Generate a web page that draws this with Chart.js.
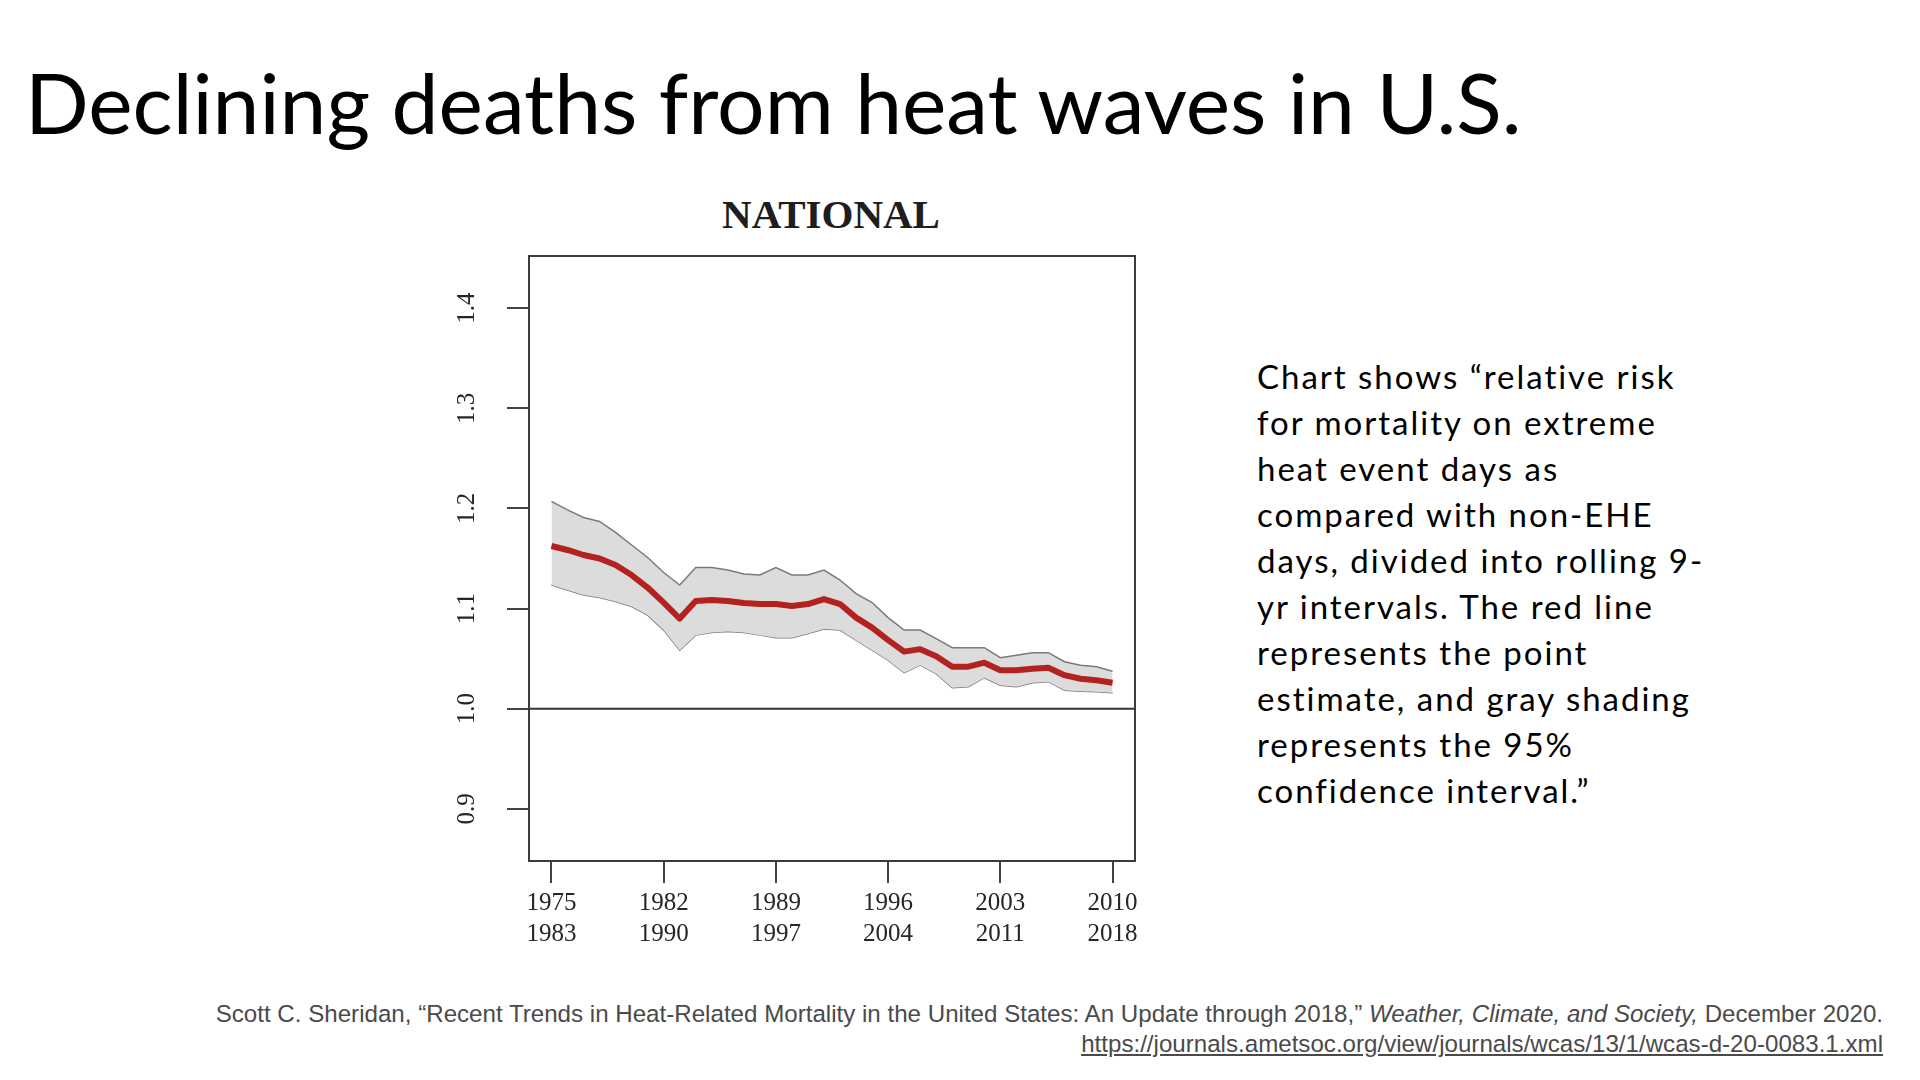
<!DOCTYPE html>
<html>
<head>
<meta charset="utf-8">
<script src="https://cdn.jsdelivr.net/npm/chart.js@4/dist/chart.umd.min.js"></script>
<style>
  html, body { margin:0; padding:0; background:#fff; }
  body { width:1920px; height:1080px; position:relative; overflow:hidden; }
  #title { position:absolute; left:25px; top:63px; font-family:Lato, "Noto Sans", sans-serif; font-size:78px; line-height:78px; color:#000; white-space:nowrap; }
  #natl { position:absolute; left:631px; width:400px; text-align:center; top:194px; font-family:"Liberation Serif", serif; font-weight:bold; font-size:41px; line-height:41px; color:#1e1e1e; }
  #chartbox { position:absolute; left:380px; top:230px; width:780px; height:740px; }
  #note { position:absolute; left:1257px; top:353px; font-family:Lato, "Noto Sans", sans-serif; font-size:33px; line-height:46px; color:#000; white-space:nowrap; }
  #foot { position:absolute; right:37px; top:999px; font-family:"Liberation Sans", Arial, sans-serif; font-size:22px; line-height:30px; color:#4a4a4a; text-align:right; white-space:nowrap; }
  #foot a { color:#4a4a4a; text-decoration:underline; }
</style>
</head>
<body>
<div id="title">Declining deaths from heat waves in U.S.</div>
<div id="natl">NATIONAL</div>
<div id="chartbox"><canvas id="c"></canvas></div>
<div id="note"><span id="note1">Chart shows “relative risk</span><br>for mortality on extreme<br>heat event days as<br>compared with non-EHE<br>days, divided into rolling 9-<br>yr intervals. The red line<br>represents the point<br>estimate, and gray shading<br>represents the 95%<br>confidence interval.”</div>
<div id="foot"><span id="foot1">Scott C. Sheridan, “Recent Trends in Heat-Related Mortality in the United States: An Update through 2018,” <i>Weather, Climate, and Society,</i> December 2020.</span><br><a>https://journals.ametsoc.org/view/journals/wcas/13/1/wcas-d-20-0083.1.xml</a></div>
<script>
// ---- data ----
const startYears = [1975,1976,1977,1978,1979,1980,1981,1982,1983,1984,1985,1986,1987,1988,1989,1990,1991,1992,1993,1994,1995,1996,1997,1998,1999,2000,2001,2002,2003,2004,2005,2006,2007,2008,2009,2010];
const estimate = [1.1625,1.1585,1.1535,1.150,1.1435,1.1335,1.121,1.106,1.090,1.1075,1.1085,1.1075,1.1055,1.1045,1.1045,1.1025,1.1045,1.1095,1.1045,1.091,1.081,1.0685,1.057,1.0595,1.0525,1.042,1.042,1.046,1.0385,1.0385,1.040,1.041,1.0335,1.030,1.0285,1.026];
const upperCI = [1.207,1.1985,1.191,1.187,1.176,1.1635,1.151,1.136,1.1235,1.141,1.141,1.1385,1.1345,1.1335,1.141,1.1335,1.1335,1.1385,1.1285,1.115,1.106,1.091,1.0785,1.0785,1.070,1.061,1.061,1.061,1.051,1.0535,1.056,1.056,1.047,1.0435,1.042,1.0375];
const lowerCI = [1.1235,1.1185,1.1135,1.111,1.107,1.102,1.0935,1.0785,1.0585,1.0735,1.076,1.077,1.076,1.0735,1.071,1.071,1.075,1.0795,1.0785,1.0685,1.0585,1.0485,1.036,1.0435,1.035,1.021,1.022,1.031,1.0235,1.022,1.026,1.027,1.0185,1.0175,1.017,1.016];
const xTickStarts = [1975,1982,1989,1996,2003,2010];
const xTickEnds = [1983,1990,1997,2004,2011,2018];
const yTicks = [0.9,1.0,1.1,1.2,1.3,1.4];
const referenceValue = 1.0;

// ---- text fitting ----
function fitWidth(el, target, measureEl) {
  const m = measureEl || el;
  const w = m.getBoundingClientRect().width;
  const fs = parseFloat(getComputedStyle(el).fontSize);
  el.style.fontSize = (fs * target / w) + 'px';
}
function fitSpacing(el, target, measureEl) {
  const m = measureEl || el;
  const w = m.getBoundingClientRect().width;
  const n = m.textContent.length;
  el.style.letterSpacing = ((target - w) / n) + 'px';
}
fitWidth(document.getElementById('title'), 1497);
fitSpacing(document.getElementById('note'), 419, document.getElementById('note1'));
fitWidth(document.getElementById('foot'), 1669, document.getElementById('foot1'));

const pts = arr => startYears.map((x,i) => ({x, y: arr[i]}));
const serif = '"Liberation Serif", "DejaVu Serif", serif';

const extras = {
  id: 'extras',
  afterDatasetsDraw(chart) {
    const {ctx, chartArea:a, scales:{y}} = chart;
    ctx.save();
    const yr = y.getPixelForValue(referenceValue);
    ctx.strokeStyle = '#333'; ctx.lineWidth = 2;
    ctx.beginPath(); ctx.moveTo(a.left, yr); ctx.lineTo(a.right, yr); ctx.stroke();
    ctx.strokeStyle = '#3c3c3c'; ctx.lineWidth = 2;
    ctx.strokeRect(a.left, a.top, a.right - a.left, a.bottom - a.top);
    ctx.restore();
  },
  afterDraw(chart) {
    const {ctx, chartArea:a, scales:{y}} = chart;
    ctx.save();
    ctx.fillStyle = '#262626';
    ctx.font = '25px ' + serif;
    ctx.textAlign = 'center'; ctx.textBaseline = 'middle';
    y.ticks.forEach(t => {
      const py = y.getPixelForValue(t.value);
      ctx.save();
      ctx.translate(a.left - 62, py);
      ctx.rotate(-Math.PI/2);
      ctx.fillText(t.value.toFixed(1), 0, 0);
      ctx.restore();
    });
    ctx.restore();
  }
};

new Chart(document.getElementById('c'), {
  type: 'line',
  data: {
    datasets: [
      { data: pts(lowerCI), borderColor:'#7a7a7a', borderWidth:1.5, pointRadius:0, fill:false, tension:0, order:2 },
      { data: pts(upperCI), borderColor:'#7a7a7a', borderWidth:1.5, pointRadius:0, fill:'-1', backgroundColor:'#dcdcdc', tension:0, order:1 },
      { data: pts(estimate), borderColor:'#b3221f', borderWidth:6, pointRadius:0, fill:false, tension:0, borderJoinStyle:'round', order:0 }
    ]
  },
  options: {
    responsive:true, maintainAspectRatio:false, animation:false,
    layout: { padding: { top:26, right:25, left:0, bottom:0 } },
    plugins: { legend:{display:false}, tooltip:{enabled:false}, title:{display:false} },
    scales: {
      x: {
        type:'linear', min:1973.6, max:2011.4,
        afterBuildTicks: s => { s.ticks = xTickStarts.map(v => ({value:v})); },
        afterFit: s => { s.height = 109; },
        grid: { drawOnChartArea:false, drawTicks:true, tickLength:22, color:'#444', lineWidth:2 },
        border: { display:true, color:'#3c3c3c', width:2 },
        ticks: {
          padding:5, color:'#262626', maxRotation:0, minRotation:0, autoSkip:false,
          font: { family: serif, size:25, lineHeight:1.24 },
          callback: v => { const i = xTickStarts.indexOf(v); return [String(xTickStarts[i]), String(xTickEnds[i])]; }
        }
      },
      y: {
        type:'linear', min:0.848, max:1.452,
        afterBuildTicks: s => { s.ticks = yTicks.map(v => ({value:v})); },
        afterFit: s => { s.width = 149; },
        grid: { drawOnChartArea:false, drawTicks:true, tickLength:22, color:'#444', lineWidth:2 },
        border: { display:true, color:'#3c3c3c', width:2 },
        ticks: { display:false }
      }
    }
  },
  plugins: [extras]
});
</script>
</body>
</html>
